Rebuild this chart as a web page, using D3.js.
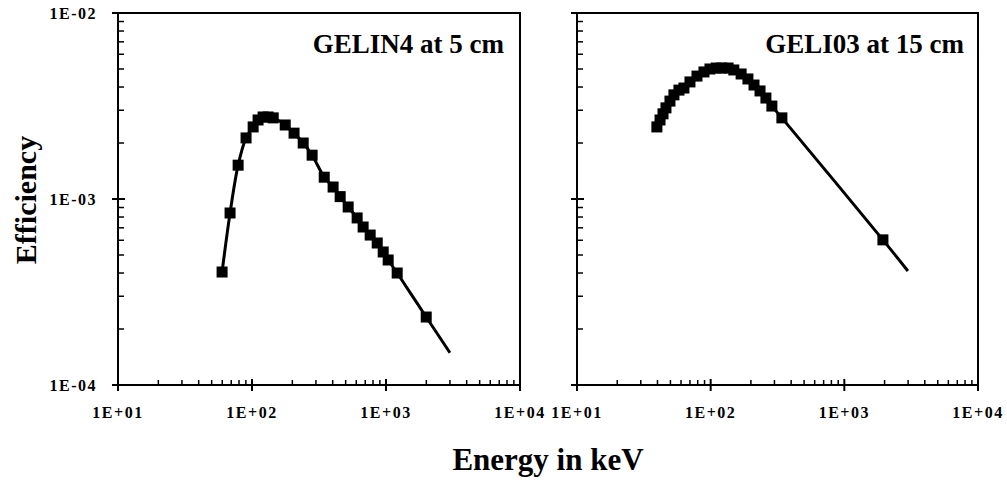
<!DOCTYPE html>
<html><head><meta charset="utf-8">
<script src="https://cdn.jsdelivr.net/npm/d3@7/dist/d3.min.js"></script>
<style>
html,body{margin:0;padding:0;background:#fff;}
svg text{font-family:"Liberation Serif","Times New Roman",serif;font-weight:bold;fill:#000;}
</style></head>
<body>
<svg id="chart" width="1007" height="483"></svg>
<script>
// ---- data ----
const leftTitle = "GELIN4 at 5 cm";
const rightTitle = "GELI03 at 15 cm";
const xTickLabels = ["1E+01", "1E+02", "1E+03", "1E+04"];
const yTickLabels = ["1E-04", "1E-03", "1E-02"];
const xTickValues = [10, 100, 1000, 10000];
const yTickValues = [1e-4, 1e-3, 1e-2];

const leftEnergy = [59.8, 68.6, 78.8, 90.3, 102, 111, 121, 132, 144, 177, 206, 241, 281, 346, 403, 455, 522, 609, 675, 762, 860, 953, 1038, 1212, 1996];
const leftEff = [4.05e-4, 8.41e-4, 1.52e-3, 2.13e-3, 2.44e-3, 2.66e-3, 2.76e-3, 2.76e-3, 2.73e-3, 2.50e-3, 2.26e-3, 2.00e-3, 1.72e-3, 1.31e-3, 1.16e-3, 1.03e-3, 9.06e-4, 7.91e-4, 7.07e-4, 6.40e-4, 5.80e-4, 5.19e-4, 4.70e-4, 4.00e-4, 2.32e-4];
const leftCurveEndEnergy = [3000];
const leftCurveEndEff = [1.49e-4];

const rightEnergy = [39.6, 41.8, 44.0, 46.3, 49.6, 53.1, 57.9, 63.1, 70.0, 79.0, 89.1, 98.8, 110, 121, 135, 149, 169, 190, 211, 234, 259, 287, 341, 1944];
const rightEff = [2.44e-3, 2.66e-3, 2.87e-3, 3.09e-3, 3.36e-3, 3.63e-3, 3.85e-3, 3.95e-3, 4.26e-3, 4.58e-3, 4.82e-3, 5.00e-3, 5.06e-3, 5.06e-3, 5.06e-3, 4.94e-3, 4.70e-3, 4.42e-3, 4.10e-3, 3.81e-3, 3.49e-3, 3.16e-3, 2.73e-3, 6.03e-4];
const rightCurveEndEnergy = [2990];
const rightCurveEndEff = [4.10e-4];

// ---- drawing ----
const svg = d3.select("#chart");
const plotTop = 13, plotBottom = 385;

const panels = [
  {x0: 118, x1: 520, E: leftEnergy, F: leftEff, endE: leftCurveEndEnergy, endF: leftCurveEndEff, title: leftTitle, titleX: 504, yLabels: true},
  {x0: 577, x1: 978, E: rightEnergy, F: rightEff, endE: rightCurveEndEnergy, endF: rightCurveEndEff, title: rightTitle, titleX: 964, yLabels: false}
];

function minorTicks(lo, hi) {
  const out = [];
  for (let d = lo; d < hi * 0.999; d *= 10) for (let k = 2; k <= 9; k++) out.push(d * k);
  return out;
}

panels.forEach(p => {
  const x = d3.scaleLog().domain([10, 10000]).range([p.x0, p.x1]);
  const y = d3.scaleLog().domain([1e-4, 1e-2]).range([plotBottom, plotTop]);
  const g = svg.append("g");

  // frame
  g.append("rect").attr("x", p.x0).attr("y", plotTop).attr("width", p.x1 - p.x0).attr("height", plotBottom - plotTop)
    .attr("fill", "none").attr("stroke", "#000").attr("stroke-width", 2);

  // x ticks
  g.selectAll(".xmaj").data(xTickValues).enter().append("line")
    .attr("x1", d => x(d)).attr("x2", d => x(d)).attr("y1", plotBottom - 6).attr("y2", plotBottom + 6)
    .attr("stroke", "#000").attr("stroke-width", 2);
  g.selectAll(".xmin").data(minorTicks(10, 10000)).enter().append("line")
    .attr("x1", d => x(d)).attr("x2", d => x(d)).attr("y1", plotBottom - 5).attr("y2", plotBottom)
    .attr("stroke", "#000").attr("stroke-width", 1.5);
  g.selectAll(".xlab").data(xTickValues).enter().append("text")
    .attr("x", d => x(d)).attr("y", 418).attr("text-anchor", "middle")
    .attr("font-size", 16).attr("letter-spacing", 1.5)
    .text((d, i) => xTickLabels[i]);

  // y ticks
  g.selectAll(".ymaj").data(yTickValues).enter().append("line")
    .attr("y1", d => y(d)).attr("y2", d => y(d)).attr("x1", p.x0 - 6).attr("x2", p.x0 + 7)
    .attr("stroke", "#000").attr("stroke-width", 2);
  g.selectAll(".ymin").data(minorTicks(1e-4, 1e-2)).enter().append("line")
    .attr("y1", d => y(d)).attr("y2", d => y(d)).attr("x1", p.x0).attr("x2", p.x0 + 6)
    .attr("stroke", "#000").attr("stroke-width", 1.5);
  if (p.yLabels) {
    g.selectAll(".ylab").data(yTickValues).enter().append("text")
      .attr("x", 97).attr("y", d => y(d) + 6).attr("text-anchor", "end")
      .attr("font-size", 16).attr("letter-spacing", 1.5)
      .text((d, i) => yTickLabels[i]);
  }

  // curve
  const pts = p.E.map((e, i) => [e, p.F[i]]).concat(p.endE.map((e, i) => [e, p.endF[i]]));
  const line = d3.line().x(d => x(d[0])).y(d => y(d[1])).curve(d3.curveCatmullRom.alpha(0.5));
  g.append("path").attr("d", line(pts)).attr("fill", "none").attr("stroke", "#000").attr("stroke-width", 3);

  // markers
  const s = 11;
  g.selectAll(".mk").data(p.E).enter().append("rect")
    .attr("x", (d) => x(d) - s / 2).attr("y", (d, i) => y(p.F[i]) - s / 2)
    .attr("width", s).attr("height", s).attr("fill", "#000");

  // title
  g.append("text").attr("x", p.titleX).attr("y", 53).attr("text-anchor", "end")
    .attr("font-size", 27).text(p.title);
});

svg.append("text").attr("x", 548).attr("y", 470).attr("text-anchor", "middle")
  .attr("font-size", 31).text("Energy in keV");
svg.append("text").attr("transform", "translate(36,200) rotate(-90)").attr("text-anchor", "middle")
  .attr("font-size", 30).text("Efficiency");
</script>
</body></html>
